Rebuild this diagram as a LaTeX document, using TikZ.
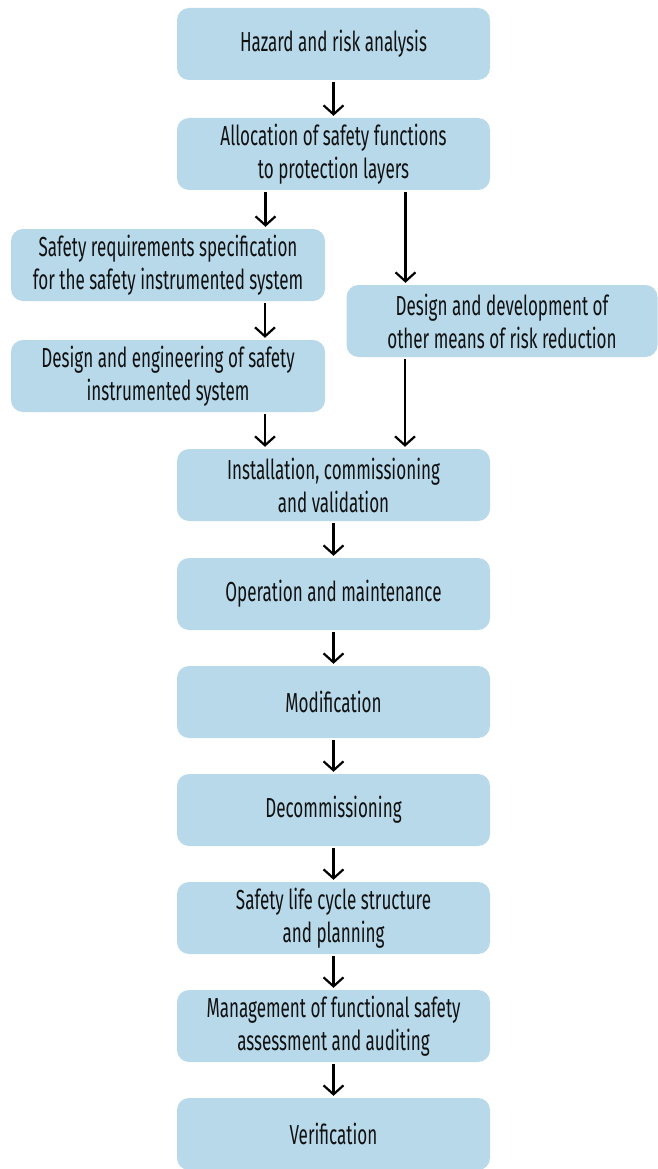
\documentclass[tikz,border=0pt]{standalone}
\usepackage{fontspec}
\setmainfont[FakeStretch=0.62]{Fira Sans}
\usepackage{tikz}
\usetikzlibrary{arrows.meta, positioning, calc}
\usepackage{xcolor}
\definecolor{stageblue}{HTML}{B8D9EA}
\definecolor{stagetext}{HTML}{111111}

\begin{document}
\begin{tikzpicture}[
    x=1pt, y=-1pt,
    box/.style={
      fill=stageblue, draw=none, rounded corners=12pt,
      minimum width=313pt, minimum height=72pt, inner sep=0pt,
      font=\fontsize{27.5}{33}\selectfont, text=stagetext, align=center
    },
    sidebox/.style={box, minimum width=314pt},
    arr/.style={-{Straight Barb[length=9pt, width=20pt, line width=2.2pt]},
      line width=2.2pt, shorten <=2pt, shorten >=2pt},
  ]
    \useasboundingbox (0,0) rectangle (657,1169);

    % --- Analysis ---
    \node[box] (hazard) at (333.5,44)  {Hazard and risk analysis};
    \node[box] (alloc)  at (333.5,154) {Allocation of safety functions\\to protection layers};

    % --- Realisation (two branches) ---
    \node[sidebox] (srs)    at (168,265)  {Safety requirements specification\\for the safety instrumented system};
    \node[sidebox] (siseng) at (168,376)  {Design and engineering of safety\\instrumented system};
    \node[box, minimum width=311pt] (other) at (502,321) {Design and development of\\other means of risk reduction};

    % --- Operation ---
    \node[box] (install) at (333.5,485)  {Installation, commissioning\\and validation};
    \node[box] (operate) at (333.5,594)  {Operation and maintenance};
    \node[box] (modify)  at (333.5,702)  {Modification};
    \node[box] (decom)   at (333.5,810)  {Decommissioning};

    % --- Overall ---
    \node[box] (plan)    at (333.5,918)  {Safety life cycle structure\\and planning};
    \node[box] (manage)  at (333.5,1026) {Management of functional safety\\assessment and auditing};
    \node[box] (verify)  at (333.5,1134) {Verification};

    % --- Arrows ---
    \draw[arr] (hazard) -- (alloc);
    \draw[arr] ([xshift=-68pt]alloc.south) -- ([xshift=-68pt]alloc.south |- srs.north);
    \draw[arr] ([xshift=72pt]alloc.south)  -- ([xshift=72pt]alloc.south |- other.north);
    \draw[arr] ([xshift=97pt]srs.south)    -- ([xshift=97pt]siseng.north);
    \draw[arr] ([xshift=97pt]siseng.south) -- ([xshift=97pt]siseng.south |- install.north);
    \draw[arr] ([xshift=-97pt]other.south) -- ([xshift=-97pt]other.south |- install.north);
    \draw[arr] (install) -- (operate);
    \draw[arr] (operate) -- (modify);
    \draw[arr] (modify)  -- (decom);
    \draw[arr] (decom)   -- (plan);
    \draw[arr] (plan)    -- (manage);
    \draw[arr] (manage)  -- (verify);
\end{tikzpicture}
\end{document}
